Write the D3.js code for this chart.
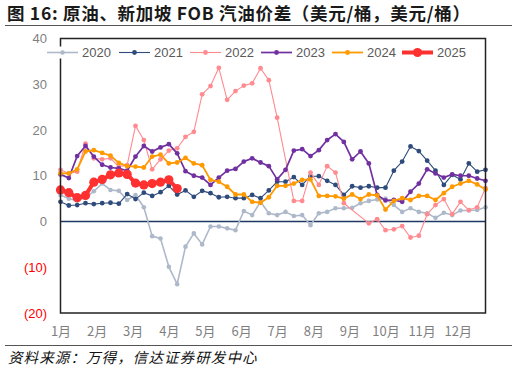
<!DOCTYPE html>
<html><head><meta charset="utf-8">
<script src="https://cdn.jsdelivr.net/npm/d3@7"></script>
<style>
body{margin:0;background:#fff;}
svg{display:block;}
text{font-family:"Liberation Sans","Noto Sans CJK SC",sans-serif;}
</style></head>
<body><svg id="c" width="518" height="371"></svg>
<script>
const months = ["1月","2月","3月","4月","5月","6月","7月","8月","9月","10月","11月","12月"];
const yTicks = [-20,-10,0,10,20,30,40];
const seriesNames = ["2020","2021","2022","2023","2024","2025"];
const s2020 = [5.8,5.0,4.6,5.2,6.6,8.3,6.9,6.7,4.7,5.8,3.1,-3.2,-3.7,-9.9,-13.7,-5.5,-2.6,-5.0,-1.1,-1.1,-1.5,-1.9,2.3,1.4,4.3,1.8,1.4,2.1,1.2,1.4,-0.8,1.8,2.1,2.9,2.9,3.0,4.0,4.5,4.8,5.0,3.6,2.1,2.9,2.1,1.8,0.8,1.9,1.4,2.4,2.4,2.5,3.1];
const s2021 = [4.3,3.5,3.6,4.0,3.8,4.0,4.1,3.9,6.0,4.9,6.3,5.6,6.4,7.8,5.9,6.8,5.4,6.7,6.2,5.3,5.4,5.1,5.1,5.8,5.1,6.8,8.7,8.7,9.7,8.0,9.9,9.9,8.9,8.0,5.8,7.7,7.4,7.7,7.4,7.4,11.1,13.1,16.4,15.4,13.3,11.1,8.0,10.2,9.2,12.7,10.9,11.3];
const s2022 = [11.3,10.5,10.9,17.0,13.8,13.6,13.8,12.0,12.3,20.9,17.8,11.4,13.6,15.5,16.0,18.5,19.6,27.8,29.6,33.6,26.6,28.5,29.7,30.2,33.5,30.9,22.7,null,4.5,4.5,10.7,8.0,12.1,10.7,4.0,null,null,-0.4,0.5,-1.9,-1.7,-1.0,-3.5,-3.1,1.6,3.6,4.9,1.6,4.3,2.5,3.1,7.3];
const s2023 = [10.3,9.5,14.3,16.5,14.2,12.4,11.8,11.6,11.1,14.2,16.5,15.3,16.2,16.9,14.9,11.0,10.0,9.6,8.0,9.6,11.1,11.5,13.1,13.8,12.9,12.1,9.2,11.3,15.5,15.8,14.3,15.6,17.8,19.1,17.4,13.6,15.3,12.7,5.8,4.6,4.7,4.3,6.5,8.3,11.4,10.5,9.6,10.3,10.0,10.0,9.4,8.9];
const s2024 = [10.5,10.5,11.4,15.3,15.6,15.0,14.4,12.8,12.1,12.0,11.8,14.2,14.6,12.7,12.9,13.9,12.7,12.3,9.1,8.7,7.6,5.9,5.9,4.3,4.1,5.3,7.8,7.8,8.3,9.1,9.2,5.6,5.6,5.5,5.0,5.9,4.9,5.9,5.7,2.6,4.5,5.1,4.7,5.6,5.6,4.7,6.2,7.6,8.3,8.9,8.1,7.0];
const s2025 = [6.9,6.3,5.2,5.7,8.6,9.2,10.2,10.6,10.3,8.4,8.0,8.3,8.6,9.1,7.2];

const seriesValues = [s2020,s2021,s2022,s2023,s2024,s2025];
const styles = [
  {color:"#ADB9CA", w:1.6, r:2.3},
  {color:"#2F4B7C", w:1.1, r:2.4},
  {color:"#FF8A8F", w:1.1, r:2.4},
  {color:"#7030A0", w:1.7, r:2.4},
  {color:"#FF9900", w:1.8, r:2.4},
  {color:"#FF3030", w:4.0, r:4.6}
];

const svg = d3.select("#c");
const L=60.5, R=485.5, T=38.5, B=313;
const x = d3.scaleLinear().domain([0,51]).range([L,R]);
const y = d3.scaleLinear().domain([-20,40]).range([B,T]);

// title
svg.append("text").attr("x",7).attr("y",20).attr("font-size",17.5).attr("font-weight","bold")
  .attr("fill","#1a1a1a").attr("letter-spacing",0.7).style("font-family",'"Noto Sans CJK SC",sans-serif')
  .text("图 16:  原油、新加坡 FOB 汽油价差（美元/桶，美元/桶）");
svg.append("line").attr("x1",5).attr("x2",512).attr("y1",25.5).attr("y2",25.5).attr("stroke","#555").attr("stroke-width",1);
svg.append("line").attr("x1",5).attr("x2",512).attr("y1",345.5).attr("y2",345.5).attr("stroke","#555").attr("stroke-width",1);
svg.append("text").attr("x",8).attr("y",363).attr("font-size",14.5).attr("font-style","italic")
  .attr("fill","#111").attr("letter-spacing",1.1).style("font-family",'"Noto Sans CJK SC",sans-serif')
  .text("资料来源：万得，信达证券研发中心");

// y axis
const yAxis = d3.axisLeft(y).tickValues(yTicks).tickSize(0).tickPadding(0)
  .tickFormat(d => d<0 ? "("+Math.abs(d)+")" : String(d));
const ga = svg.append("g").attr("transform","translate(47,0)").call(yAxis);
ga.select(".domain").remove();
ga.selectAll("text").attr("font-size",13).attr("fill",d=>d<0?"#FF0000":"#7F7F7F")
  .style("font-family",'"Liberation Sans",sans-serif');

// x axis
const monthPos = months.map((m,i)=>i*52/12);
const xAxis = d3.axisBottom(x).tickValues(monthPos).tickSize(0).tickPadding(0)
  .tickFormat((d,i)=>months[i]);
const gx = svg.append("g").attr("transform","translate(0,327)").call(xAxis);
gx.select(".domain").remove();
gx.selectAll("text").attr("font-size",13).attr("fill","#7F7F7F")
  .style("font-family",'"Noto Sans CJK SC",sans-serif');

// zero line
svg.append("line").attr("x1",L).attr("x2",R).attr("y1",y(0)).attr("y2",y(0))
  .attr("stroke","#1F3864").attr("stroke-width",1.5);

// series
const line = d3.line().x(d=>x(d.i)).y(d=>y(d.v));
seriesValues.forEach((vals,k)=>{
  const pts = vals.map((v,i)=>({i,v})).filter(d=>d.v!==null);
  const st = styles[k];
  const g = svg.append("g");
  g.append("path").attr("d",line(pts)).attr("fill","none").attr("stroke",st.color)
    .attr("stroke-width",st.w).attr("stroke-linejoin","round");
  g.selectAll("circle").data(pts).join("circle").attr("cx",d=>x(d.i)).attr("cy",d=>y(d.v))
    .attr("r",st.r).attr("fill",st.color);
});

// frame
svg.append("rect").attr("x",L).attr("y",T).attr("width",R-L).attr("height",B-T)
  .attr("fill","none").attr("stroke","#222").attr("stroke-width",1.5);

// legend
const legX = [47,119,190,261,332,402];
seriesNames.forEach((n,k)=>{
  const st = styles[k];
  const g = svg.append("g").attr("transform",`translate(${legX[k]},52.5)`);
  g.append("rect").attr("x",0).attr("y",-6).attr("width",68).attr("height",12).attr("fill","#fff");
  g.append("line").attr("x1",0).attr("x2",31).attr("y1",0).attr("y2",0).attr("stroke",st.color).attr("stroke-width",st.w);
  g.append("circle").attr("cx",15.5).attr("cy",0).attr("r",st.r).attr("fill",st.color);
  g.append("text").attr("x",35).attr("y",4.5).attr("font-size",13).attr("fill","#595959").text(n);
});
</script></body></html>
